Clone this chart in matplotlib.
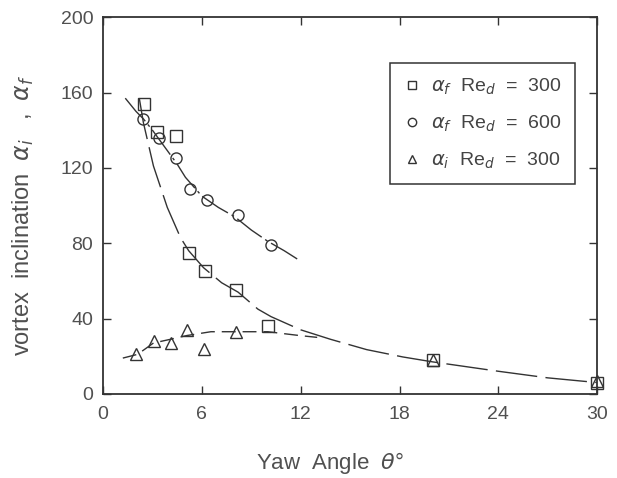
import matplotlib.pyplot as plt
from matplotlib.lines import Line2D

# measured points
sq_x = [2.5, 3.3, 4.4, 5.2, 6.2, 8.1, 10.0, 20.0, 30.0]
sq_y = [154, 139, 137, 75, 65, 55, 36, 18, 6]
ci_x = [2.4, 3.4, 4.4, 5.3, 6.3, 8.2, 10.2]
ci_y = [146, 136, 125, 109, 103, 95, 79]
tr_x = [2.0, 3.1, 4.1, 5.1, 6.1, 8.1, 20.0, 30.0]
tr_y = [21, 28, 27, 34, 24, 33, 18, 7]

# fitted curves
ci_fit_x = [1.35, 2.0, 2.45, 3.0, 3.5, 4.0, 4.5, 5.0, 5.5, 6.0, 7.0, 8.0, 9.0, 10.0, 11.0, 11.9]
ci_fit_y = [157, 150, 146, 140, 134, 128, 122, 115, 110, 105, 99, 94, 87, 81, 76, 71]
sq_fit_x = [2.2, 2.45, 3.06, 3.9, 4.7, 5.2, 6.1, 7.2, 8.2, 9.4, 10.2, 12.0, 13.8, 16.0, 18.2, 20.0, 22.0, 24.0, 27.0, 30.0]
sq_fit_y = [157, 144, 121, 99, 83, 76, 67, 59, 54, 45, 41, 34, 29, 23.5, 19.6, 17, 14.5, 12, 8.5, 6]
tr_fit_x = [1.2, 2.1, 3.06, 4.1, 5.1, 6.55, 8.2, 10.0, 11.9, 13.0]
tr_fit_y = [19, 21, 27, 29, 31, 33, 33, 33, 31, 30]

ink = '#333333'
txt = '#505050'
plt.rcParams['font.family'] = ['Liberation Sans', 'DejaVu Sans']

fig = plt.figure(figsize=(6.17, 4.78), dpi=100)
ax = fig.add_axes([0.167, 0.176, 0.801, 0.788])

ax.plot(ci_fit_x, ci_fit_y, color=ink, lw=1.0, dashes=(22, 3, 2, 3))
ax.plot(sq_fit_x, sq_fit_y, color=ink, lw=1.0, dashes=(30, 6))
ax.plot(tr_fit_x, tr_fit_y, color=ink, lw=1.0, dashes=(10, 5))

mk = dict(ls='none', mfc='none', mec=ink, mew=1.0, clip_on=False)
ax.plot(sq_x, sq_y, marker='s', ms=8, **mk)
ax.plot(ci_x, ci_y, marker='o', ms=8, **mk)
ax.plot(tr_x, tr_y, marker='^', ms=8, **mk)

ax.set_xlim(0, 30)
ax.set_ylim(0, 200)
ax.set_xticks(range(0, 31, 6))
ax.set_yticks(range(0, 201, 40))
ax.tick_params(direction='in', top=True, right=True, length=6, width=1.0,
               colors=ink, labelsize=14, labelcolor=txt)
ax.tick_params(axis='x', pad=9)
ax.tick_params(axis='y', pad=7)
for s in ax.spines.values():
    s.set_linewidth(1.3)
    s.set_color(ink)

ax.set_xlabel(r'Yaw  Angle  $\theta$°', fontsize=16, color=txt)
ax.xaxis.set_label_coords(0.46, -0.15)
ax.set_ylabel(r'vortex  inclination  $\alpha_i$   ,  $\alpha_f$', fontsize=17, color=txt)
ax.yaxis.set_label_coords(-0.135, 0.475)

handles = [
    Line2D([], [], marker='s', ms=6, **mk),
    Line2D([], [], marker='o', ms=6, **mk),
    Line2D([], [], marker='^', ms=6, **mk),
]
labels = [r'$\alpha_f$  Re$_d$  =  300', r'$\alpha_f$  Re$_d$  =  600', r'$\alpha_i$  Re$_d$  =  300']
leg = ax.legend(handles, labels, loc='upper left', bbox_to_anchor=(0.581, 0.878),
                borderaxespad=0, fontsize=14, handlelength=0.8, handletextpad=0.6,
                labelspacing=0.85, borderpad=0.7, fancybox=False, framealpha=1)
leg.get_frame().set_edgecolor(ink)
leg.get_frame().set_linewidth(1.1)
for t in leg.get_texts():
    t.set_color('#444444')

fig.savefig('out.png', dpi=100)
